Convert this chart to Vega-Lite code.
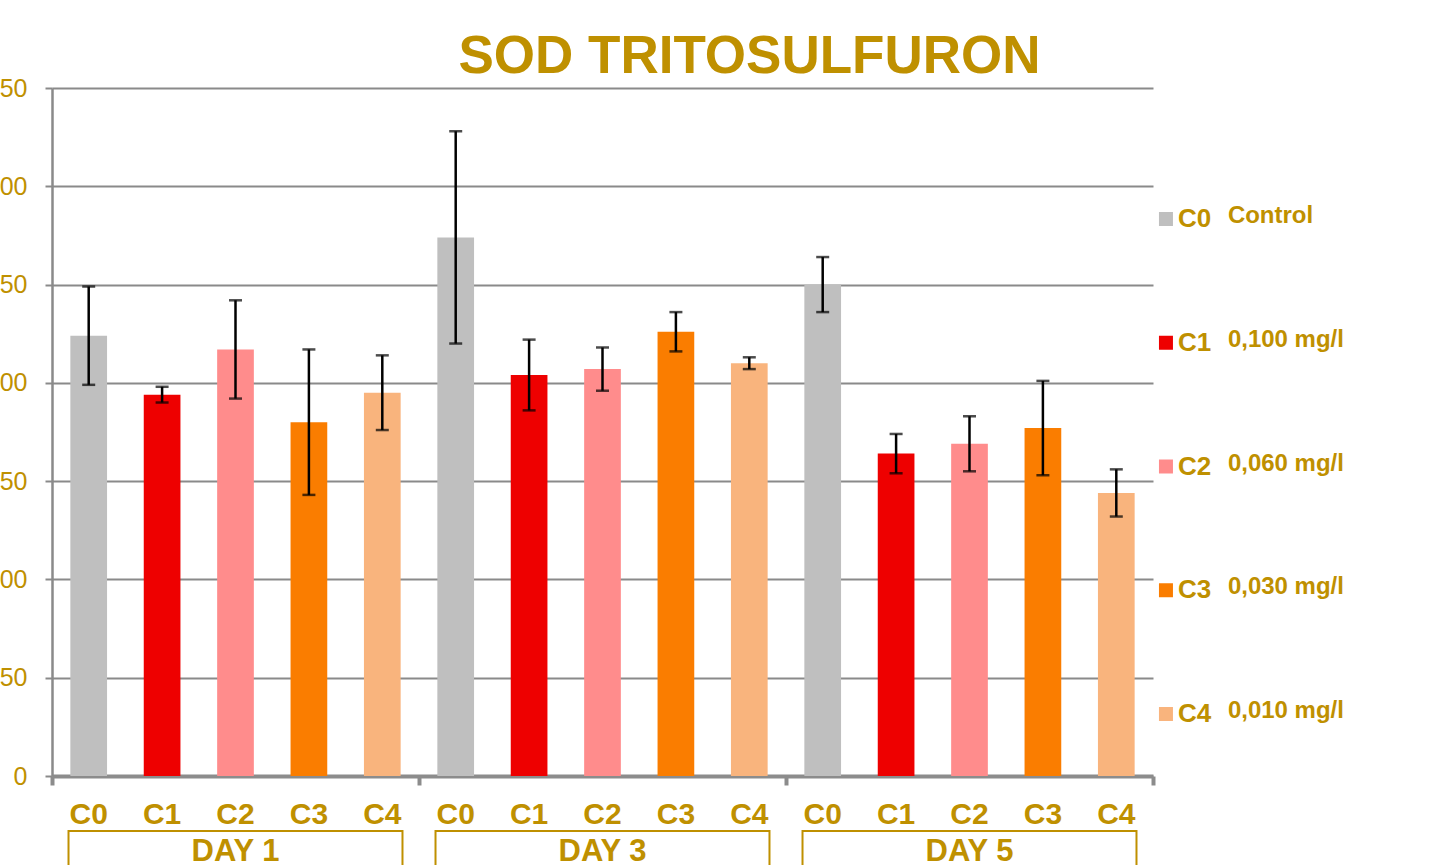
{
  "$schema": "https://vega.github.io/schema/vega-lite/v6.json",
  "background": "white",
  "padding": {"left": -15, "top": 31, "right": 0, "bottom": 0},
  "config": {"view": {"stroke": null}, "font": "Liberation Sans"},
  "bounds": "flush",
  "spacing": 0,
  "columns": 2,
  "datasets": {
    "bars": [
      {"day": "DAY 1", "conc": "C0", "mean": 224, "err": 25},
      {"day": "DAY 1", "conc": "C1", "mean": 194, "err": 4},
      {"day": "DAY 1", "conc": "C2", "mean": 217, "err": 25},
      {"day": "DAY 1", "conc": "C3", "mean": 180, "err": 37},
      {"day": "DAY 1", "conc": "C4", "mean": 195, "err": 19},
      {"day": "DAY 3", "conc": "C0", "mean": 274, "err": 54},
      {"day": "DAY 3", "conc": "C1", "mean": 204, "err": 18},
      {"day": "DAY 3", "conc": "C2", "mean": 207, "err": 11},
      {"day": "DAY 3", "conc": "C3", "mean": 226, "err": 10},
      {"day": "DAY 3", "conc": "C4", "mean": 210, "err": 3},
      {"day": "DAY 5", "conc": "C0", "mean": 250, "err": 14},
      {"day": "DAY 5", "conc": "C1", "mean": 164, "err": 10},
      {"day": "DAY 5", "conc": "C2", "mean": 169, "err": 14},
      {"day": "DAY 5", "conc": "C3", "mean": 177, "err": 24},
      {"day": "DAY 5", "conc": "C4", "mean": 144, "err": 12}
    ],
    "days": [
      {"day": "DAY 1"},
      {"day": "DAY 3"},
      {"day": "DAY 5"}
    ],
    "legend": [
      {"conc": "C0", "desc": "Control"},
      {"conc": "C1", "desc": "0,100 mg/l"},
      {"conc": "C2", "desc": "0,060 mg/l"},
      {"conc": "C3", "desc": "0,030 mg/l"},
      {"conc": "C4", "desc": "0,010 mg/l"}
    ]
  },
  "concat": [
    {
      "width": 1101,
      "height": 688,
      "data": {"name": "bars"},
      "title": {
        "text": "SOD TRITOSULFURON",
        "fontSize": 53,
        "font": "Liberation Sans",
        "fontWeight": "bold",
        "color": "#BF9000",
        "anchor": "middle",
        "dx": 147,
        "offset": -8
      },
      "encoding": {
        "x": {
          "field": "day",
          "type": "nominal",
          "sort": ["DAY 1", "DAY 3", "DAY 5"],
          "scale": {"paddingInner": 0, "paddingOuter": 0},
          "axis": {
            "labels": false,
            "title": null,
            "domain": true,
            "domainColor": "#8c8c8c",
            "domainWidth": 4,
            "ticks": true,
            "tickBand": "extent",
            "tickColor": "#8c8c8c",
            "tickWidth": 4,
            "tickSize": 9,
            "grid": false
          }
        },
        "xOffset": {
          "field": "conc",
          "type": "nominal",
          "sort": ["C0", "C1", "C2", "C3", "C4"],
          "scale": {"paddingInner": 0.5, "paddingOuter": 0.25}
        }
      },
      "layer": [
        {
          "mark": {"type": "bar"},
          "encoding": {
            "y": {
              "field": "mean",
              "type": "quantitative",
              "scale": {"domain": [0, 350]},
              "axis": {
                "values": [0, 50, 100, 150, 200, 250, 300, 350],
                "title": null,
                "grid": true,
                "gridColor": "#8a8a8a",
                "gridWidth": 2,
                "domain": true,
                "domainColor": "#8a8a8a",
                "domainWidth": 2.5,
                "ticks": true,
                "tickColor": "#8a8a8a",
                "tickWidth": 2,
                "tickSize": 7,
                "labelFontSize": 25,
                "labelColor": "#BF9000",
                "labelPadding": 18,
                "labelFont": "Liberation Sans"
              }
            },
            "color": {
              "field": "conc",
              "type": "nominal",
              "scale": {
                "domain": ["C0", "C1", "C2", "C3", "C4"],
                "range": ["#BFBFBF", "#EE0000", "#FF8C8C", "#FA7D00", "#F9B47D"]
              },
              "legend": null
            }
          }
        },
        {
          "mark": {
            "type": "errorbar",
            "color": "black",
            "thickness": 2.5,
            "ticks": {"size": 13, "thickness": 2.5, "color": "black"}
          },
          "encoding": {
            "y": {"field": "mean", "type": "quantitative"},
            "yError": {"field": "err"}
          }
        }
      ]
    },
    {
      "width": 288,
      "height": 688,
      "data": {"name": "legend"},
      "encoding": {
        "y": {
          "field": "conc",
          "type": "ordinal",
          "sort": ["C0", "C1", "C2", "C3", "C4"],
          "scale": {"type": "point", "range": [131, 626], "padding": 0},
          "axis": null
        }
      },
      "layer": [
        {
          "mark": {"type": "square", "size": 196, "opacity": 1, "filled": true},
          "encoding": {
            "x": {"datum": 13.5, "type": "quantitative", "scale": {"domain": [0, 288]}, "axis": null},
            "color": {"field": "conc", "type": "nominal", "legend": null}
          }
        },
        {
          "mark": {
            "type": "text",
            "align": "left",
            "baseline": "middle",
            "fontSize": 26,
            "fontWeight": "bold",
            "color": "#BF9000"
          },
          "encoding": {
            "x": {"datum": 26, "type": "quantitative"},
            "text": {"field": "conc"}
          }
        },
        {
          "mark": {
            "type": "text",
            "align": "left",
            "baseline": "middle",
            "fontSize": 24,
            "fontWeight": "bold",
            "color": "#BF9000",
            "dy": -3
          },
          "encoding": {
            "x": {"datum": 78, "type": "quantitative"},
            "text": {"field": "desc"}
          }
        }
      ]
    },
    {
      "width": 1101,
      "height": 89,
      "encoding": {
        "x": {
          "field": "day",
          "type": "nominal",
          "sort": ["DAY 1", "DAY 3", "DAY 5"],
          "scale": {"paddingInner": 0, "paddingOuter": 0},
          "axis": null
        }
      },
      "layer": [
        {
          "data": {"name": "bars"},
          "mark": {
            "type": "text",
            "fontSize": 30,
            "fontWeight": "bold",
            "color": "#BF9000",
            "baseline": "alphabetic"
          },
          "encoding": {
            "xOffset": {
              "field": "conc",
              "type": "nominal",
              "sort": ["C0", "C1", "C2", "C3", "C4"],
              "scale": {"paddingInner": 0.5, "paddingOuter": 0.25}
            },
            "y": {"datum": 0.461, "type": "quantitative", "scale": {"domain": [0, 1]}, "axis": null},
            "text": {"field": "conc"}
          }
        },
        {
          "data": {"name": "days"},
          "mark": {
            "type": "bar",
            "fill": "transparent",
            "stroke": "#BF9000",
            "strokeWidth": 2,
            "width": {"band": 0.91}
          },
          "encoding": {
            "y": {"datum": 0.382, "type": "quantitative"},
            "y2": {"datum": -0.5}
          }
        },
        {
          "data": {"name": "days"},
          "mark": {
            "type": "text",
            "fontSize": 31,
            "fontWeight": "bold",
            "color": "#BF9000",
            "baseline": "alphabetic"
          },
          "encoding": {
            "y": {"datum": 0.045, "type": "quantitative"},
            "text": {"field": "day"}
          }
        }
      ]
    }
  ]
}
